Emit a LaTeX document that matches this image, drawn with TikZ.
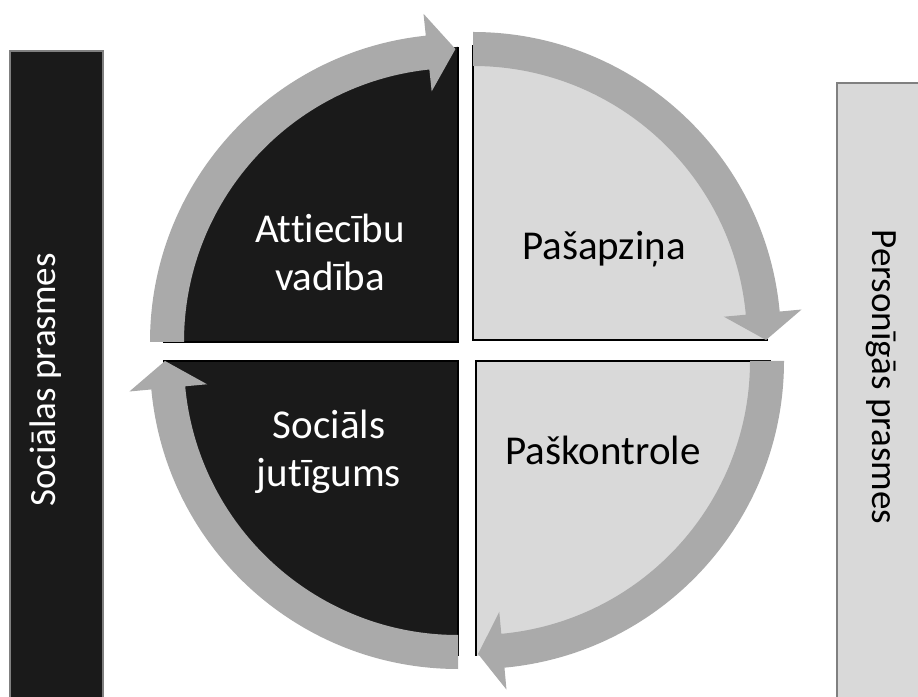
\documentclass[tikz,border=0pt]{standalone}
\usepackage{fontspec}
\setmainfont[Ligatures=NoCommon]{Carlito}
\usetikzlibrary{calc}
\definecolor{darkq}{HTML}{1A1A1A}
\definecolor{lightq}{HTML}{D9D9D9}
\definecolor{arrowg}{HTML}{AAAAAA}
\definecolor{barline}{HTML}{808080}
\newcommand{\qarrow}[4]{%
  \fill[arrowg] ([shift={(#1)}]#2:308) arc[start angle=#2,end angle=#3,radius=308]
    -- ([shift={(#1)}]#3:330) -- ([shift={(#1)}]#4:293) -- ([shift={(#1)}]#3:252)
    -- ([shift={(#1)}]#3:274) arc[start angle=#3,end angle=#2,radius=274] -- cycle;}
\newcommand{\quadfill}[4]{%
  \fill[#2] (#1) -- ([shift={(#1)}]#3:295) arc[start angle=#3,end angle=#4,radius=295] -- cycle;
  \draw[edge] ([shift={(#1)}]#3:295) -- (#1) -- ([shift={(#1)}]#4:295);}
\begin{document}
\begin{tikzpicture}[x=1pt,y=1pt,
  qtext/.style={font=\fontsize{41}{48}\selectfont, align=center},
  stext/.style={font=\fontsize{37}{44}\selectfont, anchor=base},
  edge/.style={draw=black, line width=1.2pt},
  sidebar/.style={draw=barline, line width=1.5pt}]
\useasboundingbox (0,0) rectangle (918,696);
\clip (0,0) rectangle (918,696);
\fill[white] (0,0) rectangle (918,696);
% side bars
\draw[sidebar, fill=darkq] (10,645) rectangle (103,-10);
\draw[sidebar, fill=lightq] (837,613) rectangle (930,-10);
% quadrant centres
\coordinate (cTL) at (458,354);
\coordinate (cTR) at (473,356);
\coordinate (cBL) at (458,335);
\coordinate (cBR) at (476,335);
% quadrants
\quadfill{cTL}{darkq}{180}{90}
\quadfill{cTR}{lightq}{90}{0}
\quadfill{cBR}{lightq}{0}{-90}
\quadfill{cBL}{darkq}{270}{180}
% circular arrows
\qarrow{cTL}{180}{96}{90.5}
\qarrow{cTR}{90}{5.3}{0}
\qarrow{cBR}{0}{-84.7}{-89.6}
\qarrow{cBL}{270}{185.3}{180}
% texts
\node[qtext, text=white] (tl) at (330,444) {Attiecību\\vadība};
\node[qtext, anchor=base] (tr) at (604,436) {Pašapziņa};
\node[qtext, text=white] (bl) at (329,244) {Sociāls\\jutīgums};
\node[qtext, anchor=base] (br) at (603,231) {Paškontrole};
\node[stext, text=white, rotate=90] (sl) at (55,316) {Sociālas prasmes};
\node[stext, rotate=-90] (sr) at (872,319) {Personīgās prasmes};
\end{tikzpicture}
\end{document}
